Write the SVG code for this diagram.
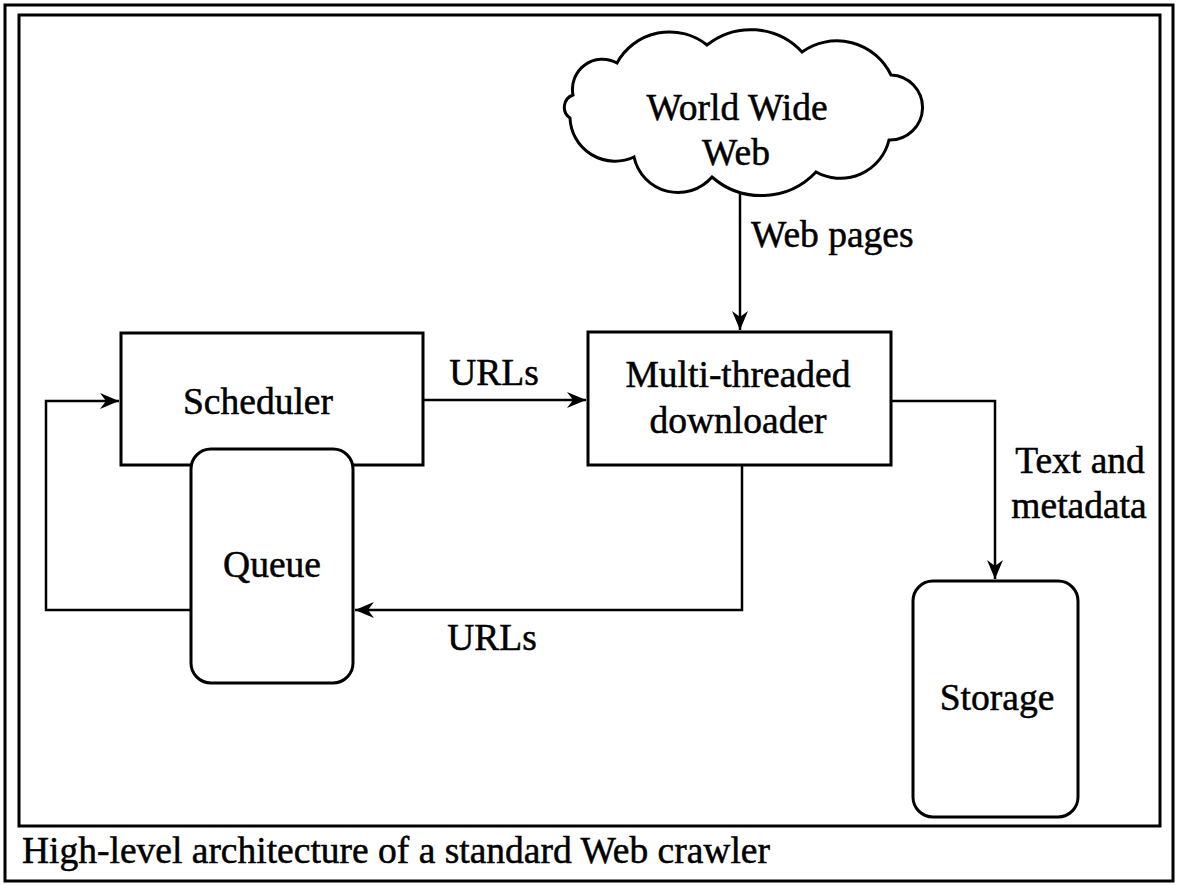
<svg xmlns="http://www.w3.org/2000/svg" width="1181" height="885" viewBox="0 0 1181 885">
<style>
.b{fill:#fff;stroke:#000;stroke-width:3}
.f{fill:none;stroke:#000;stroke-width:3}
.c{fill:none;stroke:#000;stroke-width:2.5}
text{font-family:"Liberation Serif","Times New Roman",serif;font-size:37.5px;fill:#000;stroke:#000;stroke-width:0.5}
.m{text-anchor:middle}
</style>
<defs>
<marker id="a" markerUnits="userSpaceOnUse" markerWidth="24" markerHeight="20" viewBox="-20 -10 24 20" refX="0" refY="0" orient="auto">
<path d="M0,0 L-19,-8 L-13,0 L-19,8 Z" fill="#000"/>
</marker>
</defs>
<rect width="1181" height="885" fill="#fff"/>
<rect x="5" y="5" width="1168" height="876" class="f"/>
<rect x="19" y="15" width="1141" height="811" class="f"/>
<g id="connectors">
<path class="c" d="M423,400 H586" marker-end="url(#a)"/>
<path class="c" d="M740,192 V330" marker-end="url(#a)"/>
<path class="c" d="M891,401 H995 V579" marker-end="url(#a)"/>
<path class="c" d="M742,465 V610 H355" marker-end="url(#a)"/>
<path class="c" d="M191,610 H46 V401 H119" marker-end="url(#a)"/>
<text x="494" y="385" class="m">URLs</text>
<text x="492" y="650" class="m">URLs</text>
<text x="751" y="247">Web pages</text>
<text x="1080" y="473" class="m">Text and</text>
<text x="1079" y="518" class="m">metadata</text>
</g>
<g id="www">
<path class="b" d="M573,95 A30,30 0 0 1 617,63 A60,60 0 0 1 707,45 A70,70 0 0 1 802,52 A60,60 0 0 1 891,75 A32.5,32.5 0 1 1 889,140 A50,50 0 0 1 816,172 A75,75 0 0 1 712,177 A45,45 0 0 1 634,157 A45,45 0 0 1 570,118 A13,13 0 0 1 573,95 Z"/>
<text x="737" y="120" class="m">World Wide</text>
<text x="736" y="165" class="m">Web</text>
</g>
<g id="scheduler">
<rect x="121" y="333" width="302" height="132" class="b"/>
<text x="258" y="414" class="m">Scheduler</text>
</g>
<g id="queue">
<rect x="191" y="449" width="162" height="234" rx="20" class="b"/>
<text x="272" y="577" class="m">Queue</text>
</g>
<g id="downloader">
<rect x="588" y="332" width="303" height="133" class="b"/>
<text x="738" y="387" class="m">Multi-threaded</text>
<text x="738" y="433" class="m">downloader</text>
</g>
<g id="storage">
<rect x="913" y="581" width="165" height="236" rx="20" class="b"/>
<text x="997" y="710" class="m">Storage</text>
</g>
<text x="22" y="863">High-level architecture of a standard Web crawler</text>
</svg>
